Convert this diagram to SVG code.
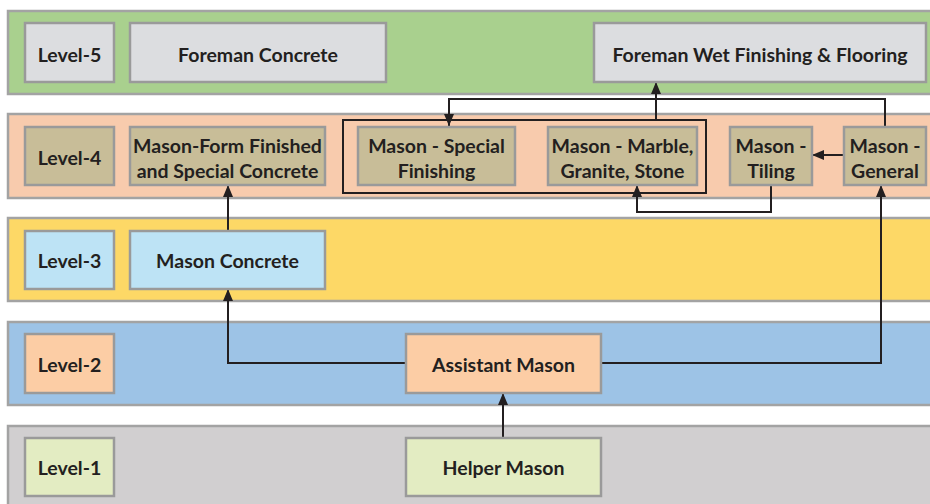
<svg xmlns="http://www.w3.org/2000/svg" width="930" height="504" viewBox="0 0 930 504">
<style>
.band{stroke:#a3a3a3;stroke-width:2.5}
.box{stroke:#9a9a9a;stroke-width:2.5}
.t{font-family:Lato,"Open Sans","Liberation Sans",sans-serif;font-weight:bold;font-size:19.5px;fill:#231f20;text-anchor:middle}
.c{fill:none;stroke:#231f20;stroke-width:2}
</style>
<defs>
<marker id="ah" viewBox="0 0 12 10" refX="12" refY="5" markerWidth="12" markerHeight="10" markerUnits="userSpaceOnUse" orient="auto">
<path d="M0,0 L12,5 L0,10 Z" fill="#231f20"/>
</marker>
</defs>
<g id="bands">
<rect class="band" x="8" y="11" width="940" height="83" fill="#a9d08e"/>
<rect class="band" x="8" y="114" width="940" height="84" fill="#f8cbad"/>
<rect class="band" x="8" y="218" width="940" height="83" fill="#fdd866"/>
<rect class="band" x="8" y="322" width="940" height="83" fill="#9dc3e6"/>
<rect class="band" x="8" y="426" width="940" height="90" fill="#d1cfd0"/>
</g>
<g id="connectors">
<polyline class="c" points="503,438 503,393" marker-end="url(#ah)"/>
<polyline class="c" points="406,363 228,363 228,289" marker-end="url(#ah)"/>
<polyline class="c" points="228,231 228,185" marker-end="url(#ah)"/>
<polyline class="c" points="601,363 881,363 881,185" marker-end="url(#ah)"/>
<polyline class="c" points="844,155 812,155" marker-end="url(#ah)"/>
<polyline class="c" points="771,185 771,212 637,212 637,185" marker-end="url(#ah)"/>
<polyline class="c" points="656,120 656,82" marker-end="url(#ah)"/>
<polyline class="c" points="885,127 885,99 449,99 449,126" marker-end="url(#ah)"/>
<rect class="c" x="343" y="120" width="363" height="73"/>
</g>
<g id="level5"><rect class="box" x="25" y="23" width="89" height="59" fill="#dcdde0"/><text class="t" x="69.5" y="62">Level-5</text></g>
<g id="foreman-concrete"><rect class="box" x="130" y="23" width="256" height="59" fill="#dcdde0"/><text class="t" x="258" y="62">Foreman Concrete</text></g>
<g id="foreman-wet"><rect class="box" x="594" y="23" width="332" height="59" fill="#dcdde0"/><text class="t" x="760" y="62">Foreman Wet Finishing &amp; Flooring</text></g>
<g id="level4"><rect class="box" x="25" y="127" width="89" height="58" fill="#c8bd98"/><text class="t" x="69.5" y="165">Level-4</text></g>
<g id="mason-form"><rect class="box" x="130" y="127" width="195" height="58" fill="#c8bd98"/><text class="t" x="227.5" y="153">Mason-Form Finished</text><text class="t" x="227.5" y="178">and Special Concrete</text></g>
<g id="mason-special"><rect class="box" x="358" y="127" width="157" height="58" fill="#c8bd98"/><text class="t" x="436.5" y="153">Mason - Special</text><text class="t" x="436.5" y="178">Finishing</text></g>
<g id="mason-marble"><rect class="box" x="548" y="127" width="149" height="58" fill="#c8bd98"/><text class="t" x="622.5" y="153">Mason - Marble,</text><text class="t" x="622.5" y="178">Granite, Stone</text></g>
<g id="mason-tiling"><rect class="box" x="730" y="127" width="82" height="58" fill="#c8bd98"/><text class="t" x="771" y="153">Mason -</text><text class="t" x="771" y="178">Tiling</text></g>
<g id="mason-general"><rect class="box" x="844" y="127" width="82" height="58" fill="#c8bd98"/><text class="t" x="885" y="153">Mason -</text><text class="t" x="885" y="178">General</text></g>
<g id="level3"><rect class="box" x="25" y="231" width="89" height="58" fill="#bde3f5"/><text class="t" x="69.5" y="268">Level-3</text></g>
<g id="mason-concrete"><rect class="box" x="130" y="231" width="195" height="58" fill="#bde3f5"/><text class="t" x="227.5" y="268">Mason Concrete</text></g>
<g id="level2"><rect class="box" x="25" y="334" width="89" height="59" fill="#fccda5"/><text class="t" x="69.5" y="372">Level-2</text></g>
<g id="assistant-mason"><rect class="box" x="406" y="334" width="195" height="59" fill="#fccda5"/><text class="t" x="503.5" y="372">Assistant Mason</text></g>
<g id="level1"><rect class="box" x="25" y="438" width="89" height="58" fill="#e3ecc2"/><text class="t" x="69.5" y="475">Level-1</text></g>
<g id="helper-mason"><rect class="box" x="406" y="438" width="195" height="58" fill="#e3ecc2"/><text class="t" x="503.5" y="475">Helper Mason</text></g>
</svg>
